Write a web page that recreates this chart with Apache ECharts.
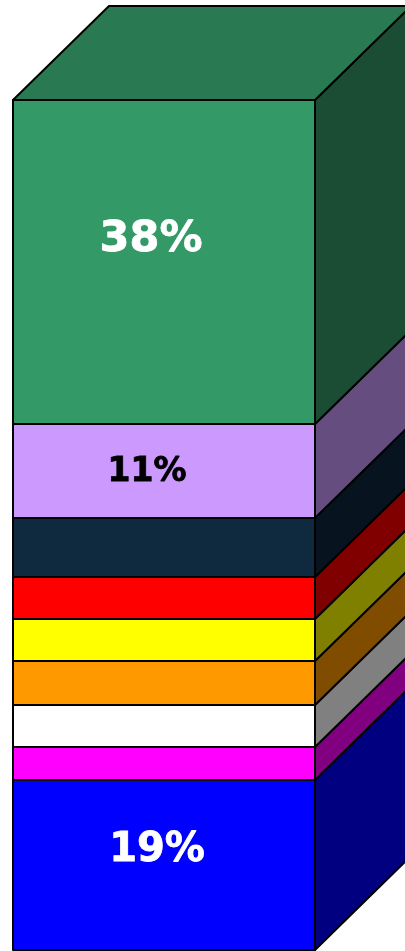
<!DOCTYPE html>
<html><head><meta charset="utf-8">
<style>html,body{margin:0;padding:0;background:#fff}#c{width:405px;height:951px}</style>
<script src="https://cdn.jsdelivr.net/npm/echarts@6/dist/echarts.min.js"></script>
</head><body><div id="c"></div>
<script>
// bottom to top
const categories = ['a','b','c','d','e','f','g','h','i'];
const values = [20, 3.88, 4.94, 5.18, 4.94, 4.94, 6.94, 11.06, 38.12];
const labels = ['19%','','','','','','','11%','38%'];
const frontColors = ['#0000ff','#ff00ff','#ffffff','#ff9900','#ffff00','#ff0000','#0f293f','#cc99ff','#339966'];
const sideColors  = ['#000080','#800080','#808080','#804d00','#808000','#800000','#07141f','#664d80','#1a4d33'];
const topColor = '#297a52';
const labelColors = ['#ffffff','','','','','','','#000000','#ffffff'];
const labelSizes = [40,0,0,0,0,0,0,33,43];
const labelOffsets = [[-7,-14],[0,0],[0,0],[0,0],[0,0],[0,0],[0,0],[-17,1],[-13,-22]];
const depth = [96,-94];

const total = values.reduce((a,b)=>a+b,0);
let acc = 0;
const rows = values.map((v,i)=>{const r=[i,acc,acc+v];acc+=v;return r;});
const line = {stroke:'#000',lineWidth:2,lineJoin:'round'};

const chart = echarts.init(document.getElementById('c'),null,{renderer:'canvas'});
chart.setOption({
  animation:false,
  backgroundColor:'#fff',
  grid:{left:13,right:90,top:100,bottom:1},
  xAxis:{type:'value',min:0,max:1,show:false},
  yAxis:{type:'value',min:0,max:total,show:false},
  series:[{
    type:'custom',clip:false,
    data:rows,
    encode:{x:-1,y:[1,2]},
    renderItem(params,api){
      const i=api.value(0);
      const p0=api.coord([0,api.value(1)]);
      const p1=api.coord([1,api.value(2)]);
      const x0=Math.round(p0[0]),y0=Math.round(p0[1]),x1=Math.round(p1[0]),y1=Math.round(p1[1]);
      const [dx,dy]=depth;
      const children=[];
      children.push({type:'polygon',shape:{points:[[x1,y0],[x1+dx,y0+dy],[x1+dx,y1+dy],[x1,y1]]},style:{fill:sideColors[i],...line}});
      if(i===values.length-1){
        children.push({type:'polygon',shape:{points:[[x0,y1],[x0+dx,y1+dy],[x1+dx,y1+dy],[x1,y1]]},style:{fill:topColor,...line}});
      }
      children.push({type:'rect',shape:{x:x0,y:y1,width:x1-x0,height:y0-y1},style:{fill:frontColors[i],...line}});
      if(labels[i]){
        children.push({type:'text',z2:10,style:{
          text:labels[i],
          x:(x0+x1)/2+labelOffsets[i][0],y:(y0+y1)/2+labelOffsets[i][1],
          align:'center',verticalAlign:'middle',
          fill:labelColors[i],
          stroke:labelColors[i],lineWidth:0.8,
          font:'bold '+labelSizes[i]+'px "DejaVu Sans"'
        }});
      }
      return {type:'group',children};
    }
  }]
});
</script></body></html>
